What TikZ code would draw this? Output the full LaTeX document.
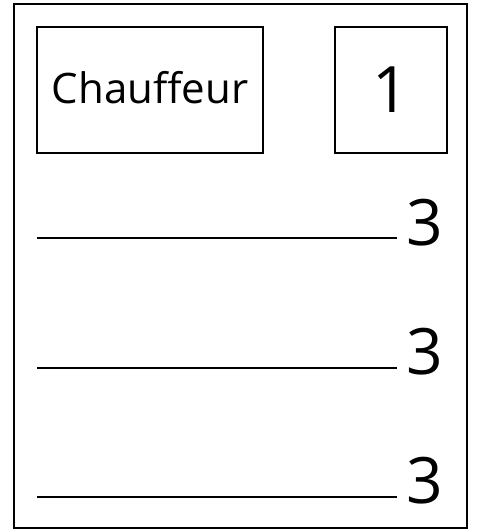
\documentclass[tikz,border=0pt]{standalone}
\usepackage{fontspec}
\setmainfont{Open Sans}
\usetikzlibrary{positioning}

\begin{document}
\begin{tikzpicture}[
    x=1pt, y=-1pt,
    node distance=70pt,
    frame/.style={draw, line width=2pt},
    box/.style={rectangle, draw, line width=2pt, minimum height=126pt, inner sep=0pt, font=\fontsize{42}{44}\selectfont},
    digit/.style={inner sep=0pt, font=\fontsize{64}{66}\selectfont},
    blank/.style={line width=2pt}
]
\useasboundingbox (0,0) rectangle (476,532);

\draw[frame] (14,4) rectangle (467,528);

\node[box, minimum width=226pt, text depth=6pt] (driver) at (150,90) {Chauffeur};
\node[box, minimum width=112pt, right=of driver, font=\fontsize{64}{66}\selectfont] (seats) {1};

\coordinate (start1) at (37,238);
\coordinate (start2) at (37,368);
\coordinate (start3) at (37,497);

\node[digit, anchor=base west] (count1) at (406,245) {3};
\node[digit, anchor=base west] (count2) at (406,374) {3};
\node[digit, anchor=base west] (count3) at (406,503) {3};

\draw[blank] (start1) -- (start1 -| 397,0);
\draw[blank] (start2) -- (start2 -| 397,0);
\draw[blank] (start3) -- (start3 -| 397,0);

\end{tikzpicture}
\end{document}
